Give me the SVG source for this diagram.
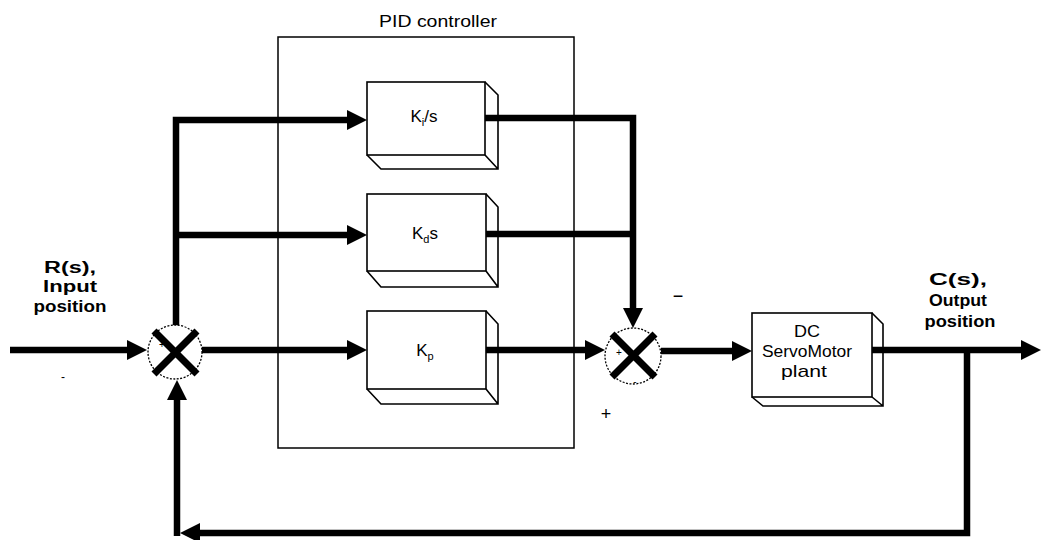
<svg xmlns="http://www.w3.org/2000/svg" width="1043" height="540" viewBox="0 0 1043 540">
<style>
.box{fill:#fff;stroke:#000;stroke-width:1.6}
.edge{fill:none;stroke:#000;stroke-width:1.6}
.wire{fill:none;stroke:#000;stroke-width:6.5;stroke-linejoin:miter}
.lbl{font-family:"Liberation Sans",Arial,sans-serif;font-size:17px;fill:#000}
.io{font-family:"Liberation Sans",Arial,sans-serif;font-size:16px;font-weight:bold;fill:#000;text-anchor:middle}
.sum{fill:#fff;stroke:#000;stroke-width:1.3;stroke-dasharray:2 1.5}
.x{stroke:#000;stroke-width:7;stroke-linecap:butt}
.sg{font-family:"Liberation Sans",Arial,sans-serif;fill:#000;text-anchor:middle}
</style>
<defs>
<marker id="arr" markerUnits="userSpaceOnUse" markerWidth="22" markerHeight="22" refX="8" refY="10" orient="auto">
<path d="M0,0 L20,10 L0,20 z" fill="#000"/>
</marker>
</defs>
<rect width="1043" height="540" fill="#fff"/>

<g id="pid">
<rect x="278" y="37" width="296" height="411" fill="none" stroke="#000" stroke-width="1.5"/>
<text class="lbl" x="438" y="27" text-anchor="middle" font-size="16" textLength="118" lengthAdjust="spacingAndGlyphs">PID controller</text>
</g>

<g id="connectors">
<path class="wire" d="M10,350 H135" marker-end="url(#arr)"/>
<path class="wire" d="M176,326 V120 H355" marker-end="url(#arr)"/>
<path class="wire" d="M176,235 H355" marker-end="url(#arr)"/>
<path class="wire" d="M202,350 H355" marker-end="url(#arr)"/>
<path class="wire" d="M485,118 H633 V316" marker-end="url(#arr)"/>
<path class="wire" d="M486,234 H633"/>
<path class="wire" d="M486,350 H593" marker-end="url(#arr)"/>
<path class="wire" d="M661,351 H740" marker-end="url(#arr)"/>
<path class="wire" d="M872,350 H1029" marker-end="url(#arr)"/>
<path class="wire" d="M967,350 V533 H192" marker-end="url(#arr)"/>
<path class="wire" d="M177,536 V392" marker-end="url(#arr)"/>
</g>

<g id="sum1">
<circle class="sum" cx="175" cy="352" r="27"/>
<line class="x" x1="154" y1="331" x2="197" y2="374"/>
<line class="x" x1="197" y1="331" x2="154" y2="374"/>
<text class="sg" x="162" y="348" font-size="10">+</text>
</g>

<g id="sum2">
<circle class="sum" cx="633" cy="356" r="28"/>
<line class="x" x1="612" y1="334" x2="655" y2="377"/>
<line class="x" x1="655" y1="334" x2="612" y2="377"/>
<text class="sg" x="619" y="356" font-size="10">+</text>
<text class="sg" x="635" y="385" font-size="10">-</text>
</g>

<g id="ki">
<rect class="box" x="367" y="82" width="118" height="73"/>
<path class="edge" d="M485,82 L498,95 V169 H381 L367,155 M485,155 L498,169"/>
<text class="lbl" x="424" y="122" text-anchor="middle">K<tspan font-size="11" dy="4">i</tspan><tspan dy="-4">/s</tspan></text>
</g>

<g id="kd">
<rect class="box" x="367" y="194" width="119" height="77"/>
<path class="edge" d="M486,194 L498,207 V287 H381 L367,271 M486,271 L498,287"/>
<text class="lbl" x="425" y="239" text-anchor="middle">K<tspan font-size="11" dy="4">d</tspan><tspan dy="-4">s</tspan></text>
</g>

<g id="kp">
<rect class="box" x="367" y="311" width="119" height="78"/>
<path class="edge" d="M486,311 L498,324 V404 H381 L367,389 M486,389 L498,404"/>
<text class="lbl" x="425" y="356" text-anchor="middle">K<tspan font-size="11" dy="4">p</tspan></text>
</g>

<g id="plant">
<rect class="box" x="752" y="313" width="120" height="84"/>
<path class="edge" d="M872,313 L883,324 V406 H763 L752,397 M872,397 L883,406"/>
<text class="lbl" x="807" y="337" text-anchor="middle" font-size="16" textLength="26" lengthAdjust="spacingAndGlyphs">DC</text>
<text class="lbl" x="807" y="357" text-anchor="middle" font-size="16" textLength="90" lengthAdjust="spacingAndGlyphs">ServoMotor</text>
<text class="lbl" x="804" y="377" text-anchor="middle" font-size="16" textLength="46" lengthAdjust="spacingAndGlyphs">plant</text>
</g>

<g id="input-label">
<text class="io" x="70" y="273" textLength="52" lengthAdjust="spacingAndGlyphs">R(s),</text>
<text class="io" x="70" y="292" textLength="54" lengthAdjust="spacingAndGlyphs">Input</text>
<text class="io" x="70" y="312" textLength="73" lengthAdjust="spacingAndGlyphs">position</text>
<text class="sg" x="63" y="381" font-size="12">-</text>
</g>

<g id="output-label">
<text class="io" x="958" y="285" textLength="58" lengthAdjust="spacingAndGlyphs">C(s),</text>
<text class="io" x="958" y="306" textLength="58" lengthAdjust="spacingAndGlyphs">Output</text>
<text class="io" x="960" y="327" textLength="71" lengthAdjust="spacingAndGlyphs">position</text>
</g>

<g id="signs">
<text class="sg" x="678" y="302" font-size="18">−</text>
<text class="sg" x="606" y="420" font-size="18" font-weight="300">+</text>
</g>
</svg>
